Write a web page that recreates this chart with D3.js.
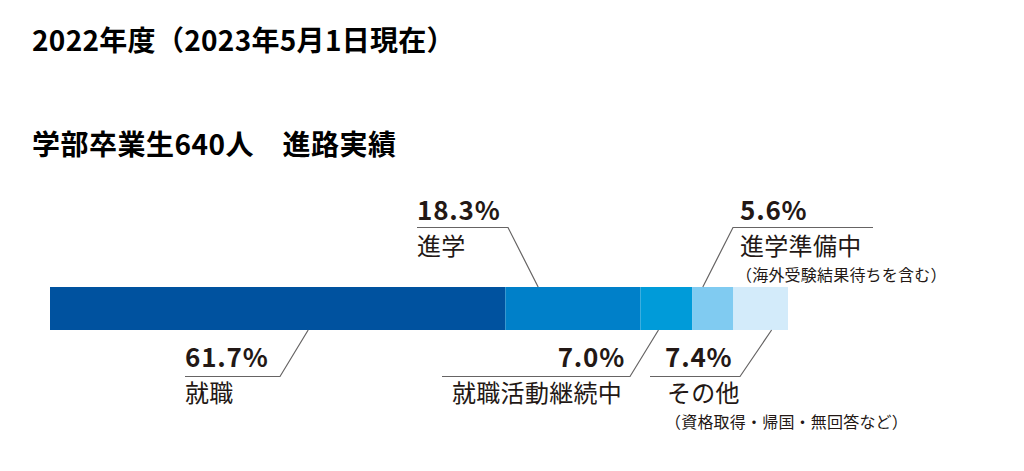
<!DOCTYPE html>
<html lang="ja">
<head>
<meta charset="utf-8">
<script src="https://cdn.jsdelivr.net/npm/d3@7"></script>
<style>
  html, body { margin: 0; padding: 0; background: #fff; }
  svg { display: block; font-family: "Noto Sans CJK JP", "Noto Sans", sans-serif; }
</style>
</head>
<body>
<svg id="chart" width="1024" height="471"></svg>
<script>
// ---- data ----
const title = "2022年度（2023年5月1日現在）";
const subtitle = "学部卒業生640人　進路実績";
const categories = ["就職", "進学", "就職活動継続中", "進学準備中", "その他"];
const values = [61.7, 18.3, 7.0, 5.6, 7.4];
const notes = ["", "", "", "（海外受験結果待ちを含む）", "（資格取得・帰国・無回答など）"];
const colors = ["#00529f", "#0080c9", "#009bd9", "#80cbf1", "#d3ebfa"];

// ---- layout (label placement per segment) ----
const labelLayout = [
  { side: "bottom", anchor: 0.567, textX: 185, align: "start", lineX0: 185, lineX1: 280 },
  { side: "top",    anchor: 0.243, textX: 417, align: "start", lineX0: 417, lineX1: 508 },
  { side: "bottom", anchor: 0.35,  textX: 625, align: "end",   lineX0: 442, lineX1: 630, nameX: 452 },
  { side: "top",    anchor: 0.26,  textX: 740, align: "start", lineX0: 733, lineX1: 873, noteX: 736 },
  { side: "bottom", anchor: 0.70,  textX: 665, align: "start", lineX0: 650, lineX1: 740, nameX: 667, noteX: 665 }
];

const svg = d3.select("#chart");
const textColor = "#231815";

svg.append("text").attr("x", 32).attr("y", 51)
  .attr("font-size", 28).attr("font-weight", 700).attr("fill", "#000")
  .attr("letter-spacing", 0.3).text(title);
svg.append("text").attr("x", 32).attr("y", 155)
  .attr("font-size", 28).attr("font-weight", 700).attr("fill", "#000")
  .attr("letter-spacing", 0.5).text(subtitle);

const barTop = 287, barH = 43;
const total = d3.sum(values);
const x = d3.scaleLinear().domain([0, total]).range([50, 788]);

const starts = [];
values.reduce((acc, v, i) => { starts[i] = acc; return acc + v; }, 0);
const segs = values.map((v, i) => ({ cat: categories[i], v, start: starts[i], color: colors[i], note: notes[i], lay: labelLayout[i] }));

svg.append("g").selectAll("rect").data(segs).join("rect")
  .attr("x", d => x(d.start))
  .attr("y", barTop)
  .attr("width", d => x(d.start + d.v) - x(d.start))
  .attr("height", barH)
  .attr("fill", d => d.color);

const lab = svg.append("g").selectAll("g").data(segs).join("g");

lab.each(function(d) {
  const g = d3.select(this);
  const L = d.lay;
  const top = L.side === "top";
  const ax = x(d.start) + (x(d.start + d.v) - x(d.start)) * L.anchor;
  const ay = top ? barTop : barTop + barH;
  const uy = top ? 227.5 : 376.5;
  const pts = top
    ? (ax > L.lineX1 ? [[L.lineX0, uy], [L.lineX1, uy], [ax, ay]] : [[L.lineX1, uy], [L.lineX0, uy], [ax, ay]])
    : [[L.lineX0, uy], [L.lineX1, uy], [ax, ay]];
  g.append("path")
    .attr("d", d3.line()(pts))
    .attr("fill", "none").attr("stroke", "#666464").attr("stroke-width", 1.2);

  const pctY = top ? 219.5 : 366.5;
  const nameY = top ? 255 : 402;
  g.append("text")
    .attr("x", L.textX).attr("y", pctY)
    .attr("text-anchor", L.align)
    .attr("font-size", 26).attr("font-weight", 700).attr("fill", textColor)
    .attr("letter-spacing", 0.8)
    .text(d3.format(".1f")(d.v) + "%");
  g.append("text")
    .attr("x", L.nameX != null ? L.nameX : L.textX).attr("y", nameY)
    .attr("font-size", 24).attr("font-weight", 400).attr("fill", textColor)
    .attr("letter-spacing", 0.3)
    .text(d.cat);
  if (d.note) {
    g.append("text")
      .attr("x", L.noteX).attr("y", top ? 281 : 428)
      .attr("font-size", 16).attr("font-weight", 400).attr("fill", textColor)
      .attr("letter-spacing", 0.2)
      .text(d.note);
  }
});
</script>
</body>
</html>
